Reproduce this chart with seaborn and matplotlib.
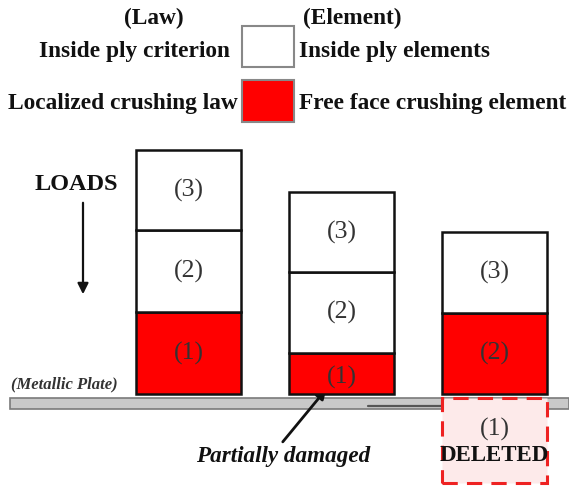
import matplotlib
matplotlib.use("Agg")
import matplotlib.pyplot as plt
import matplotlib.patches as mpatches
import seaborn as sns

sns.set_theme(style="white")
plt.rcParams['font.family'] = ['Liberation Serif', 'DejaVu Serif']

# figure is laid out in pixels, measured from the top of the picture
W, H = 569, 486

def Y(py):
    return H - py

# element stacks (heights in px, bottom element first)
stack_names = ["intact", "partially damaged", "deleted first"]
elem1_height = [82, 41, 0]
elem2_height = [82, 81, 81]
elem3_height = [80, 80, 81]
elem1_color = ["red", "red", "white"]
elem2_color = ["white", "white", "red"]
elem3_color = ["white", "white", "white"]
elem_labels = ["(1)", "(2)", "(3)"]

stack_left = [136, 289, 442]
stack_width = 105
stack_base = 394

fig = plt.figure(figsize=(W / 100, H / 100), dpi=100)
ax = fig.add_axes([0, 0, 1, 1])
ax.set_xlim(0, W)
ax.set_ylim(0, H)
ax.axis("off")

# metallic plate
ax.add_patch(mpatches.Rectangle((10, Y(409)), W - 10, 11, facecolor="#c9c9c9",
                                edgecolor="#7a7a7a", lw=1.2, zorder=2))
ax.plot([368, 505], [Y(406), Y(406)], color="#555555", lw=1.6, zorder=3)

# stacks
bottom = [Y(stack_base)] * 3
for heights, colors, lab in zip([elem1_height, elem2_height, elem3_height],
                                [elem1_color, elem2_color, elem3_color], elem_labels):
    for i in range(3):
        if heights[i] == 0:
            continue
        ax.bar(stack_left[i], heights[i], width=stack_width, bottom=bottom[i], align="edge",
               color=colors[i], edgecolor="#111111", linewidth=1.8, zorder=4)
        cy = bottom[i] + heights[i] / 2
        if heights[i] < 60:
            cy -= 4
        ax.text(stack_left[i] + stack_width / 2, cy, lab,
                ha="center", va="center", fontsize=18.5, color="#333333", zorder=5)
        bottom[i] += heights[i]

# deleted element below the plate
ax.add_patch(mpatches.Rectangle((442, Y(483)), 105, 85, facecolor="#fdeaea",
                                edgecolor="#ee2222", lw=2.2, linestyle=(0, (5, 3)), zorder=4))
ax.text(494.5, Y(429), "(1)", ha="center", va="center", fontsize=18.5, color="#333333", zorder=5)
ax.text(494.5, Y(455), "DELETED", ha="center", va="center", fontsize=16.5, fontweight="bold",
        color="#111111", zorder=5)

# legend
ax.add_patch(mpatches.Rectangle((242, Y(67)), 52, 41, facecolor="white", edgecolor="#888888", lw=1.5))
ax.add_patch(mpatches.Rectangle((242, Y(122)), 52, 42, facecolor="red", edgecolor="#888888", lw=1.5))
bold = dict(fontweight="bold", color="#111111", fontsize=16.8, va="center")
ax.text(154, Y(18), "(Law)", ha="center", **bold)
ax.text(352, Y(18), "(Element)", ha="center", **bold)
ax.text(230, Y(52), "Inside ply criterion", ha="right", **bold)
ax.text(299, Y(52), "Inside ply elements", ha="left", **bold)
ax.text(238, Y(104), "Localized crushing law", ha="right", **bold)
ax.text(299, Y(104), "Free face crushing element", ha="left", **bold)

# loads
ax.text(76, Y(185), "LOADS", ha="center", va="center", fontsize=17.5, fontweight="bold", color="#111111")
ax.annotate("", xy=(83, Y(297)), xytext=(83, Y(200)),
            arrowprops=dict(arrowstyle="-|>", color="#111111", lw=1.6, mutation_scale=16))

ax.text(11, Y(384), "(Metallic Plate)", ha="left", va="center", fontsize=12,
        fontweight="bold", fontstyle="italic", color="#333333")

ax.text(283, Y(456), "Partially damaged", ha="center", va="center", fontsize=16.7,
        fontweight="bold", fontstyle="italic", color="#111111")
ax.annotate("", xy=(328, Y(387)), xytext=(281, Y(444)),
            arrowprops=dict(arrowstyle="-|>", color="#111111", lw=2, mutation_scale=14))

fig.savefig("out.png", dpi=100)
